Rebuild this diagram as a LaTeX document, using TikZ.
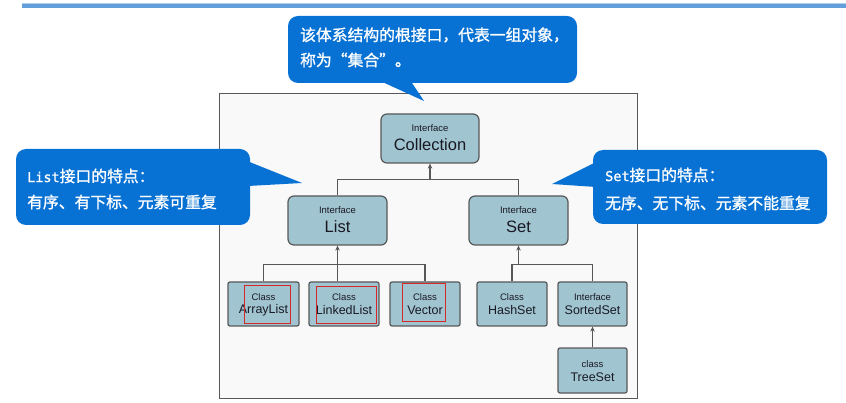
\documentclass[tikz,border=0pt]{standalone}
\usepackage{fontspec}
\setmainfont{Liberation Sans}
\newfontfamily\cjk{Noto Sans CJK SC}[FakeBold=1.2]
\newfontfamily\monof{DejaVu Sans Mono}[FakeBold=1.2]
\usetikzlibrary{arrows.meta}
\definecolor{callblue}{RGB}{8,114,212}
\definecolor{boxfill}{RGB}{160,196,208}
\definecolor{boxline}{RGB}{88,88,88}
\definecolor{topline}{RGB}{98,158,218}
\definecolor{panelbg}{RGB}{249,249,249}
\definecolor{txt}{RGB}{25,25,35}
\definecolor{redmark}{RGB}{215,40,40}
\begin{document}
\begin{tikzpicture}[x=1pt,y=-1pt,
  ibox/.style={draw=boxline, fill=boxfill, line width=1.2pt, rounded corners=6pt, inner sep=0pt, minimum width=98pt, minimum height=49pt},
  cbox/.style={draw=boxline, fill=boxfill, line width=1.2pt, rounded corners=2pt, inner sep=0pt, minimum width=70pt, minimum height=44pt},
  small/.style={font=\fontsize{9.5}{10}\selectfont, text=txt, inner sep=0pt},
  big/.style={font=\fontsize{16.5}{18}\selectfont, text=txt, inner sep=0pt},
  mid/.style={font=\fontsize{12.5}{13}\selectfont, text=txt, inner sep=0pt},
  callout/.style={fill=callblue, rounded corners=10pt, inner sep=0pt},
  ctext/.style={text=white, font=\cjk\fontsize{15.8}{17}\selectfont, anchor=west, inner sep=0pt},
  link/.style={draw=boxline, line width=1.2pt},
  tipend/.style={-{Stealth[length=5pt,width=4.5pt]}},
  redbox/.style={draw=redmark, line width=1pt}
]
\useasboundingbox (0,0) rectangle (846,403);
% top rule
\fill[topline] (22,4.5) rectangle (846,8);
\fill[topline!50!white] (22,3.5) rectangle (846,4.5);
% panel
\node[draw=boxline, fill=panelbg, line width=1pt, minimum width=418pt, minimum height=304pt, inner sep=0pt] (panel) at (428,246) {};

% interface boxes
\node[ibox] (col) at (430,138.5) {};
\node[small] (colA) at (430,128) {Interface};
\node[big] (colB) at (430,145) {Collection};

\node[ibox, minimum width=99pt] (list) at (337.5,220.5) {};
\node[small] (listA) at (337.5,210) {Interface};
\node[big] (listB) at (337.5,227) {List};

\node[ibox, minimum width=99pt] (set) at (518.5,220.5) {};
\node[small] (setA) at (518.5,210) {Interface};
\node[big] (setB) at (518.5,227) {Set};

% bottom row
\node[cbox, minimum width=71pt] (al) at (263.5,304) {};
\node[small] (alA) at (263.5,297) {Class};
\node[mid] (alB) at (263.5,310) {ArrayList};

\node[cbox] (ll) at (344,304) {};
\node[small] (llA) at (344,297) {Class};
\node[mid] (llB) at (344,310) {LinkedList};

\node[cbox] (vec) at (425,304) {};
\node[small] (vecA) at (425,297) {Class};
\node[mid] (vecB) at (425,310) {Vector};

\node[cbox] (hs) at (512,304) {};
\node[small] (hsA) at (512,297) {Class};
\node[mid] (hsB) at (512,310) {HashSet};

\node[cbox, minimum width=69pt] (ss) at (592.5,304) {};
\node[small] (ssA) at (592.5,297) {Interface};
\node[mid] (ssB) at (592.5,310) {SortedSet};

\node[cbox, minimum width=69pt, minimum height=45pt] (ts) at (592.5,370.5) {};
\node[small] (tsA) at (592.5,364) {class};
\node[mid] (tsB) at (592.5,377) {TreeSet};

% red highlight frames
\draw[redbox] (244,286) rectangle (290,324);
\draw[redbox] (316,287) rectangle (376,324);
\draw[redbox] (402,284) rectangle (445,322);

% junctions
\path (col.south) ++(0,16) coordinate (jC);
\path (list.south) ++(0,19) coordinate (jL);
\path (set.south) ++(0,19) coordinate (jS);

% connectors
\draw[link] (set.north) |- (jC);
\draw[link, tipend] (list.north) |- (jC) -- (col.south);
\draw[link] (vec.north) |- (jL);
\draw[link] (ll.north -| list.south) -- (jL);
\draw[link, tipend] (al.north) |- (jL) -- (list.south);
\draw[link] (ss.north) |- (jS);
\draw[link, tipend] (hs.north) |- (jS) -- (set.south);
\draw[link, tipend] (ts.north) -- (ss.south);

% callouts
\node[callout, minimum width=289pt, minimum height=67pt] (cTop) at (432.5,49.5) {};
\coordinate (cTopTip) at (424,101);
\fill[callblue] (378,80) -- (cTopTip) -- (410,80) -- cycle;
\node[ctext] (cTop1) at (300,35) {该体系结构的根接口，代表一组对象，};
\node[ctext] (cTop2) at (300,60) {称为“集合”。};

\node[callout, minimum width=234pt, minimum height=76pt] (cList) at (133,187) {};
\coordinate (cListTip) at (302,183);
\fill[callblue] (242,159) -- (cListTip) -- (248,186) -- cycle;
\node[ctext] (cList1) at (27,176) {{\monof\fontsize{13.5}{14}\selectfont List}接口的特点：};
\node[ctext] (cList2) at (27,202) {有序、有下标、元素可重复};

\node[callout, minimum width=234pt, minimum height=74pt] (cSet) at (710,187) {};
\coordinate (cSetTip) at (552,184);
\fill[callblue] (600,160) -- (cSetTip) -- (596,187) -- cycle;
\node[ctext] (cSet1) at (605,175) {{\monof\fontsize{13.5}{14}\selectfont Set}接口的特点：};
\node[ctext] (cSet2) at (605,203) {无序、无下标、元素不能重复};
\end{tikzpicture}
\end{document}
